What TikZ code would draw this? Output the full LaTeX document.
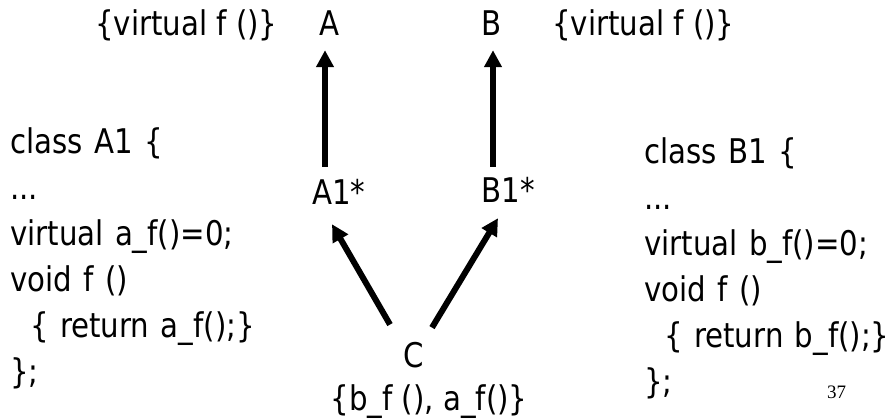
\documentclass[tikz,border=0pt]{standalone}
\usepackage{fontspec}
\newfontfamily\slidefont{DejaVu Sans}[FakeStretch=0.86]
\newfontfamily\numfont{Liberation Serif}
\usetikzlibrary{arrows.meta}

\begin{document}
\begin{tikzpicture}[x=1pt, y=-1pt,
        txt/.style={inner sep=0pt, font=\slidefont\fontsize{34}{46}\selectfont},
        code/.style={txt, align=left, text width=300pt, anchor=north west},
        arr/.style={-{Triangle[width=17pt,length=17pt]}, line width=6pt}]
    \useasboundingbox (0,0) rectangle (888,418);

    % Clases base
    \node[txt, anchor=base] (A) at (329,35) {A};
    \node[txt, anchor=base] (B) at (492,35) {B};
    \node[txt, anchor=base west] (fA) at (95,35) {\{virtual f ()\}};
    \node[txt, anchor=base west] (fB) at (552,35) {\{virtual f ()\}};

    % Punteros y clase derivada
    \node[txt, anchor=base] (A1) at (339,204) {A1*};
    \node[txt, anchor=base] (B1) at (508,202) {B1*};
    \node[txt, anchor=base] (C) at (414,367) {C};
    \node[txt, anchor=base] (fC) at (429,410) {\{b\_f (), a\_f()\}};

    % Codigo
    \node[code] (codeA) at (10,127) {class A1 \{\\
        ...\\
        virtual a\_f()=0;\\
        void f ()\\
        \hspace*{20pt}\{ return a\_f();\}\\
        \};};
    \node[code] (codeB) at (644,137) {class B1 \{\\
        ...\\
        virtual b\_f()=0;\\
        void f ()\\
        \hspace*{20pt}\{ return b\_f();\}\\
        \};};

    \node[anchor=base west, inner sep=0pt, font=\numfont\fontsize{19}{22}\selectfont] (num) at (827,398) {37};

    % Flechas
    \draw[arr] ([shift={(-14pt,12pt)}]A1.north) -- ([shift={(-4pt,-15pt)}]A.south);
    \draw[arr] ([shift={(-15pt,10pt)}]B1.north) -- ([shift={(1pt,-15pt)}]B.south);
    \draw[arr] ([shift={(-24pt,17pt)}]C.north) -- ([shift={(-7pt,-20pt)}]A1.south);
    \draw[arr] ([shift={(18pt,14pt)}]C.north) -- ([shift={(-10pt,-16pt)}]B1.south);
\end{tikzpicture}
\end{document}
